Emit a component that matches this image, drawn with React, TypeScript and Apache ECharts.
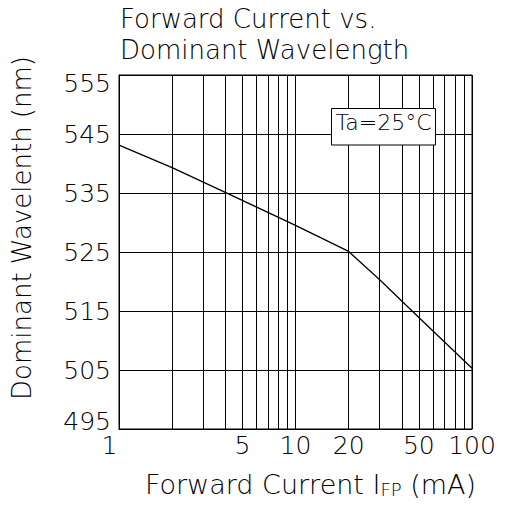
import { useEffect, useRef } from 'react';
import * as echarts from 'echarts';

// Forward current (mA) and dominant wavelength (nm)
const currentMA = [1, 2, 4, 10, 20, 30, 50, 100];
const wavelengthNm = [543.1, 539.3, 535.1, 529.5, 525.1, 520.3, 513.9, 505.3];

// Log-decade grid lines and labelled currents
const xGridValues = [1, 2, 3, 4, 5, 6, 7, 8, 9, 10, 20, 30, 40, 50, 60, 70, 80, 90, 100];
const xLabelValues = [1, 5, 10, 20, 50, 100];
const yTickValues = [495, 505, 515, 525, 535, 545, 555];

const FONT = "'DejaVu Sans', 'Liberation Sans', sans-serif";
const lg = (v: number) => Math.log10(v);

export default function App() {
  const ref = useRef<HTMLDivElement>(null);

  useEffect(() => {
    if (!ref.current) return;
    const chart = echarts.init(ref.current, undefined, { renderer: 'svg' });
    const txt = (size: number) => ({ fontFamily: FONT, fontSize: size, fontWeight: 200 as any, color: '#000' });

    const option: any = {
      animation: false,
      backgroundColor: '#fff',
      title: {
        text: 'Forward Current vs.\nDominant Wavelength',
        left: 120,
        top: 3,
        padding: 0,
        textStyle: { ...txt(26), lineHeight: 31 },
      },
      grid: {
        left: 119,
        top: 75,
        width: 353,
        height: 354,
        show: true,
        borderColor: '#000',
        borderWidth: 1,
        backgroundColor: 'transparent',
      },
      xAxis: {
        type: 'value',
        min: 0,
        max: 2,
        axisLine: { show: true, lineStyle: { color: '#000', width: 1 } },
        axisTick: { show: false, customValues: xGridValues.map(lg) },
        splitLine: { show: true, lineStyle: { color: '#000', width: 1 } },
        axisLabel: {
          customValues: xLabelValues.map(lg),
          margin: 4,
          ...txt(25),
          formatter: (v: number) => {
            const n = Math.round(Math.pow(10, v));
            if (n === 1) return '{l|1}';
            return String(n);
          },
          rich: {
            l: { ...txt(25), padding: [0, 19, 0, 0] },
          },
        },
        name: '{n|Forward Current I}{s|FP}{n| (mA)}',
        nameLocation: 'middle',
        nameGap: 42,
        nameTextStyle: {
          ...txt(27),
          padding: [0, 0, 0, 30],
          rich: {
            n: { ...txt(27), verticalAlign: 'bottom' },
            s: { ...txt(18), verticalAlign: 'bottom' },
          },
        },
      },
      yAxis: {
        type: 'value',
        min: 495,
        max: 555,
        axisLine: { show: true, lineStyle: { color: '#000', width: 1 } },
        axisTick: { show: false, customValues: yTickValues },
        splitLine: { show: true, lineStyle: { color: '#000', width: 1 } },
        axisLabel: {
          customValues: yTickValues,
          margin: 8,
          ...txt(25),
          formatter: (v: number) => {
            if (v === 555) return '{t|555}';
            if (v === 495) return '{b|495}';
            return String(v);
          },
          rich: {
            t: { ...txt(25), padding: [17, 0, 0, 0] },
            b: { ...txt(25), padding: [0, 0, 16, 0] },
          },
        },
        name: 'Dominant Wavelenth (nm)',
        nameLocation: 'middle',
        nameGap: 84,
        nameRotate: 90,
        nameTextStyle: { ...txt(26), padding: [0, 0, 0, 48] },
      },
      series: [
        {
          type: 'line',
          data: currentMA.map((c, i) => [lg(c), wavelengthNm[i]]),
          symbol: 'none',
          lineStyle: { color: '#000', width: 1.3 },
          z: 5,
        },
      ],
      graphic: [
        {
          type: 'rect',
          z: 100,
          shape: { x: 331.5, y: 108.5, width: 104, height: 36.5 },
          style: { fill: '#fff', stroke: '#000', lineWidth: 1 },
        },
        {
          type: 'text',
          z: 101,
          x: 383.5,
          y: 122,
          style: {
            text: 'Ta=25°C',
            fontFamily: FONT,
            fontSize: 22,
            fontWeight: 200,
            fill: '#000',
            align: 'center',
            verticalAlign: 'middle',
            textAlign: 'center',
            textVerticalAlign: 'middle',
          },
        },
      ],
    };

    chart.setOption(option);
    return () => chart.dispose();
  }, []);

  return (
    <div
      ref={ref}
      style={{ position: 'absolute', left: 0, top: 0, width: 508, height: 507, background: '#fff' }}
    />
  );
}
